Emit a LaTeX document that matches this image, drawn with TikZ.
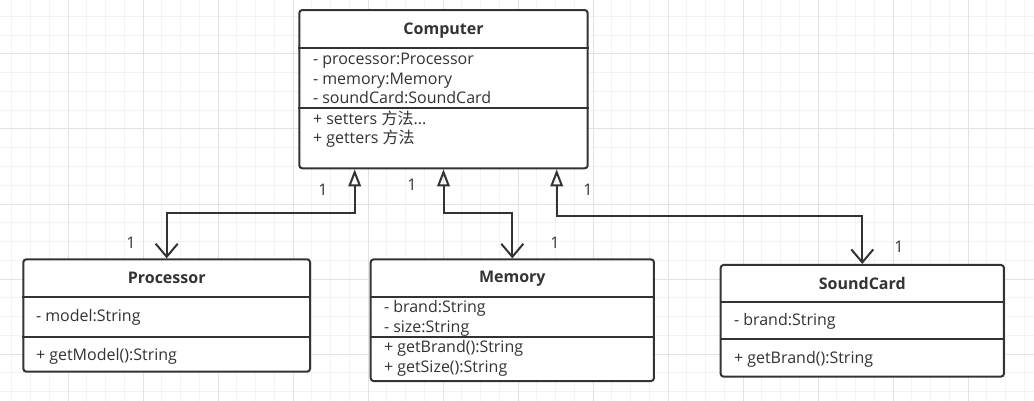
\documentclass[tikz,border=0pt]{standalone}
\usepackage{fontspec}
\setmainfont{Open Sans}
\newfontfamily\cjk{Noto Sans CJK SC}
\usepackage{tikz}
\usetikzlibrary{arrows.meta,calc}
\definecolor{BorderGray}{RGB}{51,51,51}
\definecolor{GridMinor}{RGB}{243,243,243}
\definecolor{GridMajor}{RGB}{226,226,226}

\begin{document}
\begin{tikzpicture}[x=1pt, y=-1pt, line width=2pt,
    classbox/.style={draw=BorderGray, fill=white, rounded corners=3pt, inner sep=0pt},
    classtitle/.style={inner sep=0pt, text=BorderGray, font=\fontsize{16}{19}\selectfont\bfseries},
    member/.style={anchor=west, inner sep=0pt, text height=11pt, text depth=4pt, yshift=-1.5pt,
        text=BorderGray, font=\fontsize{16}{19}\selectfont},
    mult/.style={inner sep=0pt, text=BorderGray, font=\fontsize{16}{19}\selectfont},
    assoc/.style={draw=BorderGray,
        {Triangle[open,length=17pt,width=12.5pt]}-{Straight Barb[length=13pt,width=22pt]}}]
    \useasboundingbox (0,0) rectangle (1034,401);
    \fill[white] (0,0) rectangle (1034,401);

    % grid
    \foreach \gx in {0,...,54}
        \draw[GridMinor, line width=1pt] ({11.75+18.75*\gx},0) -- ++(0,401);
    \foreach \gy in {0,...,20}
        \draw[GridMinor, line width=1pt] (0,{16.5+18.75*\gy}) -- ++(1034,0);
    \foreach \gx in {0,...,12}
        \draw[GridMajor, line width=1pt] ({68+75*\gx},0) -- ++(0,401);
    \foreach \gy in {0,...,4}
        \draw[GridMajor, line width=1pt] (0,{54+75*\gy}) -- ++(1034,0);

    % Computer
    \node[classbox, minimum width=288.4pt, minimum height=158.3pt] (computer) at (443.5,89.2) {};
    \draw[BorderGray] (computer.west |- 0,47.7) -- (computer.east |- 0,47.7);
    \draw[BorderGray] (computer.west |- 0,108.3) -- (computer.east |- 0,108.3);
    \node[classtitle] (computer-name) at (443.5,30.7) {Computer};
    \node[member] (computer-a1) at (312,59.5) {- processor:Processor};
    \node[member] (computer-a2) at (312,79.5) {- memory:Memory};
    \node[member] (computer-a3) at (312,98.5) {- soundCard:SoundCard};
    \node[member] (computer-m1) at (312,119.5) {+ setters {\cjk 方法}...};
    \node[member] (computer-m2) at (312,138.5) {+ getters {\cjk 方法}};

    % Processor
    \node[classbox, minimum width=286.7pt, minimum height=112.4pt] (processor) at (166.7,315.5) {};
    \draw[BorderGray] (processor.west |- 0,297) -- (processor.east |- 0,297);
    \draw[BorderGray] (processor.west |- 0,336.7) -- (processor.east |- 0,336.7);
    \node[classtitle] (processor-name) at (166.7,278.3) {Processor};
    \node[member] (processor-a1) at (35,316.2) {- model:String};
    \node[member] (processor-m1) at (35,355.5) {+ getModel():String};

    % Memory
    \node[classbox, minimum width=283.3pt, minimum height=121.7pt] (memory) at (512.3,320.2) {};
    \draw[BorderGray] (memory.west |- 0,297) -- (memory.east |- 0,297);
    \draw[BorderGray] (memory.west |- 0,336.7) -- (memory.east |- 0,336.7);
    \node[classtitle] (memory-name) at (512.3,278.3) {Memory};
    \node[member] (memory-a1) at (383,307.2) {- brand:String};
    \node[member] (memory-a2) at (383,327.2) {- size:String};
    \node[member] (memory-m1) at (383,347.2) {+ getBrand():String};
    \node[member] (memory-m2) at (383,367.2) {+ getSize():String};

    % SoundCard
    \node[classbox, minimum width=283.3pt, minimum height=111.7pt] (soundcard) at (862.3,320.8) {};
    \draw[BorderGray] (soundcard.west |- 0,301.7) -- (soundcard.east |- 0,301.7);
    \draw[BorderGray] (soundcard.west |- 0,339.3) -- (soundcard.east |- 0,339.3);
    \node[classtitle] (soundcard-name) at (862.3,283.3) {SoundCard};
    \node[member] (soundcard-a1) at (733,320.5) {- brand:String};
    \node[member] (soundcard-m1) at (733,358.8) {+ getBrand():String};

    % associations
    \draw[assoc] ($(computer.south west)+(56.4,0)$) -- ++(0,44) -| (processor.north);
    \draw[assoc] (computer.south) -- ++(0,43.5) -| (memory.north);
    \draw[assoc] ($(computer.south east)+(-32,0)$) -- ++(0,46.5) -| (soundcard.north);

    \node[mult] (mult-cp) at (323,190) {1};
    \node[mult] (mult-pc) at (131,243) {1};
    \node[mult] (mult-cm) at (412,185) {1};
    \node[mult] (mult-mc) at (555,243) {1};
    \node[mult] (mult-cs) at (588,190) {1};
    \node[mult] (mult-sc) at (899,247) {1};
\end{tikzpicture}
\end{document}
